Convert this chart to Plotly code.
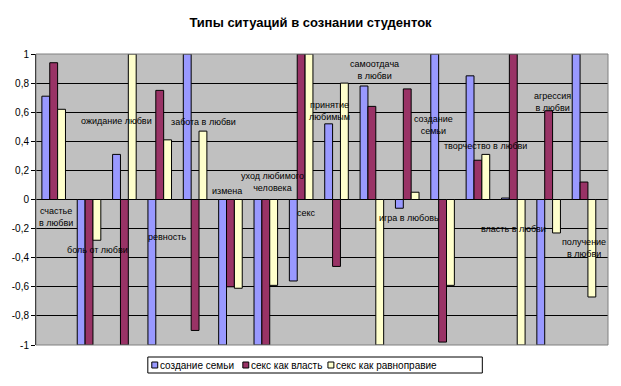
import plotly.graph_objects as go

categories = ["счастье в любви", "боль от любви", "ожидание любви", "ревность",
              "забота в любви", "измена", "уход любимого человека", "секс",
              "принятие любимым", "самоотдача в любви", "игра в любовь",
              "создание семьи", "творчество в любви", "власть в любви",
              "агрессия в любви", "получение в любви"]

label_texts = ["счастье<br>в любви", "боль от любви", "ожидание любви", "ревность",
               "забота в любви", "измена", "уход любимого<br>человека", "секс",
               "принятие<br>любимым", "самоотдача<br>в любви", "игра в любовь",
               "создание<br>семьи", "творчество в любви", "власть в любви",
               "агрессия<br>в любви", "получение<br>в любви"]

series_names = ["создание семьи", "секс как власть", "секс как равноправие"]

family = [0.71, -1.0, 0.31, -1.0, 1.0, -1.0, -1.0, -0.56, 0.52, 0.78, -0.06, 1.0, 0.85, 0.01, -1.0, 1.0]
sex_power = [0.94, -1.0, -1.0, 0.75, -0.90, -0.60, -1.0, 1.0, -0.46, 0.64, 0.76, -0.98, 0.27, 1.0, 0.61, 0.12]
sex_equal = [0.62, -0.28, 1.0, 0.41, 0.47, -0.61, -0.59, 1.0, 0.80, -1.0, 0.05, -0.59, 0.31, -1.0, -0.23, -0.67]

# label placement (value-axis position and small horizontal nudge in px)
label_y = [-0.12, -0.35, 0.54, -0.26, 0.53, 0.06, 0.12, -0.09, 0.61, 0.89, -0.13, 0.51, 0.37, -0.20, 0.67, -0.33]
label_dx = [2, 8, -8, 7, 8, -3, 7, 5, -7, 3, 2, -9, 8, 0, 4, 0]

colors = ["#9999FF", "#993366", "#FFFFCC"]
tick_vals = [1, 0.8, 0.6, 0.4, 0.2, 0, -0.2, -0.4, -0.6, -0.8, -1]
tick_text = ["1", "0,8", "0,6", "0,4", "0,2", "0", "-0,2", "-0,4", "-0,6", "-0,8", "-1"]

W, H = 621, 386
ML, MR, MT, MB = 30, 13, 54, 41
PW, PH = W - ML - MR, H - MT - MB


def px(x):
    return (x - ML) / PW


def py(y):
    return (H - MB - y) / PH


FONT = "Liberation Sans, Arial"

fig = go.Figure()
for name, vals, col in zip(series_names, [family, sex_power, sex_equal], colors):
    fig.add_trace(go.Bar(x=categories, y=vals, name=name,
                         marker=dict(color=col, line=dict(color="black", width=1))))

for cat, txt, yy, dx in zip(categories, label_texts, label_y, label_dx):
    fig.add_annotation(x=cat, y=yy, text=txt, showarrow=False, xshift=dx,
                       font=dict(family=FONT, size=9, color="black"),
                       align="center")

# plot-area border
fig.add_shape(type="rect", xref="x domain", yref="y domain", x0=0, x1=1, y0=0, y1=1,
              line=dict(color="#808080", width=1), layer="above")

# custom legend (box, colour keys, texts)
fig.add_shape(type="rect", xref="paper", yref="paper", x0=px(143), x1=px(481),
              y0=py(373), y1=py(357), line=dict(color="black", width=1),
              fillcolor="white", layer="above")
key_x = [147, 239, 325]
for name, col, kx in zip(series_names, colors, key_x):
    fig.add_shape(type="rect", xref="paper", yref="paper", x0=px(kx), x1=px(kx + 6),
                  y0=py(368), y1=py(362), line=dict(color="black", width=1),
                  fillcolor=col, layer="above")
    fig.add_annotation(xref="paper", yref="paper", x=px(kx + 7), y=py(365),
                       text=name, showarrow=False, xanchor="left", yanchor="middle",
                       borderpad=0,
                       font=dict(family=FONT, size=10, color="black"))

fig.update_layout(
    width=W, height=H,
    margin=dict(l=ML, r=MR, t=MT, b=MB),
    paper_bgcolor="white", plot_bgcolor="#C0C0C0",
    title=dict(text="<b>Типы ситуаций в сознании студенток</b>", x=0.5, xanchor="center",
               y=1 - 22 / H, yanchor="middle",
               font=dict(family=FONT, size=13, color="black")),
    barmode="group", bargap=0.333, bargroupgap=0,
    font=dict(family=FONT, size=10, color="black"),
    showlegend=False,
)
fig.update_xaxes(showticklabels=False, showgrid=False, ticks="", zeroline=False)
fig.update_yaxes(range=[-1, 1], tickvals=tick_vals, ticktext=tick_text,
                 showgrid=True, gridcolor="black", gridwidth=1,
                 zeroline=True, zerolinecolor="black", zerolinewidth=1,
                 showline=True, linecolor="black", linewidth=1,
                 ticks="outside", ticklen=4, tickcolor="black",
                 tickfont=dict(family=FONT, size=10, color="black"))

fig.write_html("out.html", config={"displayModeBar": False},
               post_script="document.body.style.margin='0';")
